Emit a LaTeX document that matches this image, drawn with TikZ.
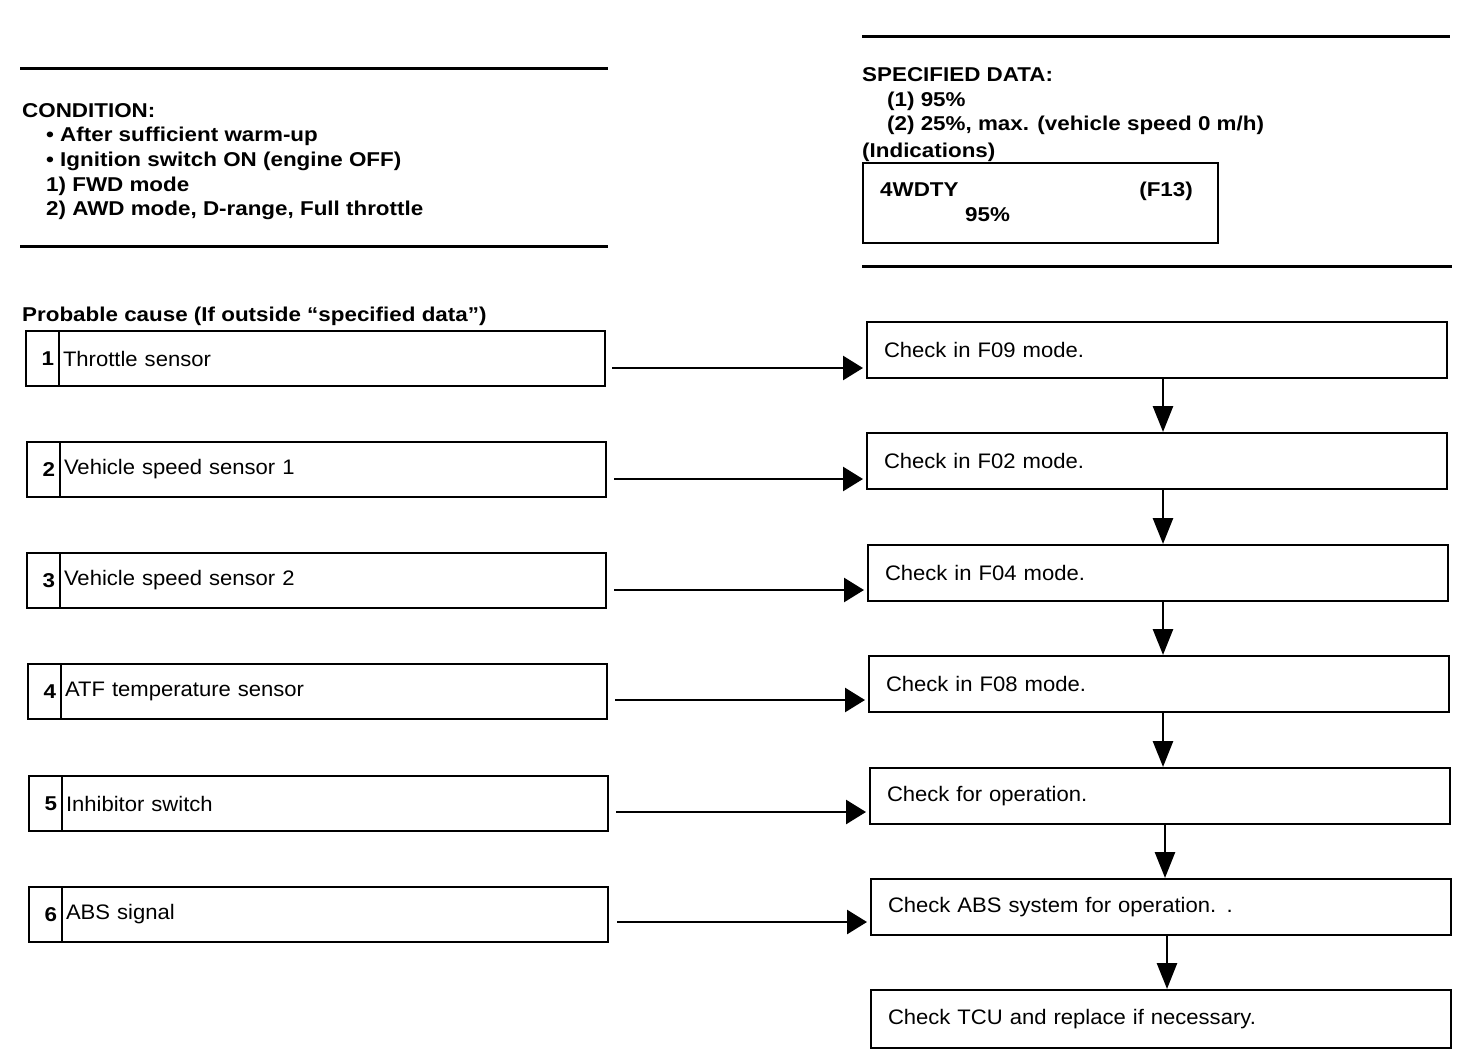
\documentclass[tikz,border=0pt]{standalone}
\usepackage{fontspec}
\setmainfont{Liberation Sans}
\newfontfamily\myreg{Liberation Sans}[FakeStretch=1.05]
\newfontfamily\mybld{Liberation Sans}[FakeStretch=1.12]
\newcommand\myhd{\mybld\bfseries\fontsize{20pt}{24pt}\selectfont}
\newcommand\mybody{\myreg\fontsize{21pt}{25pt}\selectfont}
\usetikzlibrary{arrows.meta}
\tikzset{
  rule/.style={line width=3pt},
  hd/.style={inner sep=0pt, anchor=base west, font=\myhd},
  rbox/.style={draw, line width=2.4pt, outer sep=0pt, anchor=north west, minimum height=56pt,
    text width=546pt, inner xsep=17pt, inner ysep=0pt, align=left, font=\mybody},
  nbox/.style={draw, line width=2.4pt, outer sep=0pt, anchor=north west, minimum height=55pt,
    text width=23pt, inner xsep=5pt, inner ysep=0pt, align=right, font=\myhd},
  lbox/.style={draw, line width=2.4pt, outer sep=0pt, anchor=north west, minimum height=55pt,
    text width=538pt, inner xsep=4pt, inner ysep=0pt, align=left, font=\mybody},
  harr/.style={line width=2.7pt, -{Triangle[length=20pt,width=24pt]}, shorten >=4pt},
  varr/.style={line width=2.7pt, -{Triangle[length=26pt,width=20pt]}, shorten >=1pt}
}
\begin{document}
\begin{tikzpicture}[x=1pt,y=-1pt]
\useasboundingbox (0,0) rectangle (1472,1058);
% rules
\draw[rule] (20,68) -- (608,68);
\draw[rule] (20,246) -- (608,246);
\draw[rule] (862,36) -- (1450,36);
\draw[rule] (862,266) -- (1452,266);
% condition
\node[hd] (cond) at (22,117) {CONDITION:};
\node[hd] (c1) at (46,141) {\textbullet\ After sufficient warm-up};
\node[hd] (c2) at (46,166) {\textbullet\ Ignition switch ON (engine OFF)};
\node[hd] (c3) at (46,191) {1) FWD mode};
\node[hd] (c4) at (46,215) {2) AWD mode, D-range, Full throttle};
% specified data
\node[hd] (spec) at (862,81) {SPECIFIED DATA:};
\node[hd] (s1) at (887,106) {(1) 95\%};
\node[hd] (s2) at (887,130) {(2) 25\%, max. (vehicle speed 0 m/h)};
\node[hd] (ind) at (862,157) {(Indications)};
\node[draw, line width=2.4pt, outer sep=0pt, anchor=north west, minimum width=355pt, minimum height=80pt, inner sep=0pt] (indbox) at (863,163) {};
\node[hd] (i1) at (880,196) {4WDTY};
\node[hd, anchor=base east] (i2) at (1193,196) {(F13)};
\node[hd] (i3) at (965,221) {95\%};
% probable cause
\node[hd] (prob) at (22,321) {Probable cause (If outside “specified data”)};
% left boxes
\node[nbox] (n1) at (26,331) {1};
\node[lbox] (l1) at (n1.north east) {Throttle sensor};
\node[nbox] (n2) at (27,442) {2};
\node[lbox] (l2) at (n2.north east) {Vehicle speed sensor 1};
\node[nbox] (n3) at (27,553) {3};
\node[lbox] (l3) at (n3.north east) {Vehicle speed sensor 2};
\node[nbox] (n4) at (28,664) {4};
\node[lbox] (l4) at (n4.north east) {ATF temperature sensor};
\node[nbox] (n5) at (29,776) {5};
\node[lbox] (l5) at (n5.north east) {Inhibitor switch};
\node[nbox] (n6) at (29,887) {6};
\node[lbox] (l6) at (n6.north east) {ABS signal};
% right boxes
\node[rbox] (r1) at (867,322) {Check in F09 mode.};
\node[rbox] (r2) at (867,433) {Check in F02 mode.};
\node[rbox] (r3) at (868,545) {Check in F04 mode.};
\node[rbox] (r4) at (869,656) {Check in F08 mode.};
\node[rbox] (r5) at (870,768) {Check for operation.};
\node[rbox] (r6) at (871,879) {Check ABS system for operation. .};
\node[rbox, minimum height=58pt] (r7) at (871,990) {Check TCU and replace if necessary.};
% horizontal arrows
\coordinate (a1) at ([xshift=7pt]l1.east |- 0,368);
\coordinate (a2) at ([xshift=8pt]l2.east |- 0,479);
\coordinate (a3) at ([xshift=8pt]l3.east |- 0,590);
\coordinate (a4) at ([xshift=8pt]l4.east |- 0,700);
\coordinate (a5) at ([xshift=8pt]l5.east |- 0,812);
\coordinate (a6) at ([xshift=9pt]l6.east |- 0,922);
\draw[harr] (a1) -- (r1.west |- a1);
\draw[harr] (a2) -- (r2.west |- a2);
\draw[harr] (a3) -- (r3.west |- a3);
\draw[harr] (a4) -- (r4.west |- a4);
\draw[harr] (a5) -- (r5.west |- a5);
\draw[harr] (a6) -- (r6.west |- a6);
% vertical arrows
\draw[varr] ([xshift=6pt]r1.south) -- ([xshift=6pt]r1.south |- r2.north);
\draw[varr] ([xshift=6pt]r2.south) -- ([xshift=6pt]r2.south |- r3.north);
\draw[varr] ([xshift=5pt]r3.south) -- ([xshift=5pt]r3.south |- r4.north);
\draw[varr] ([xshift=4pt]r4.south) -- ([xshift=4pt]r4.south |- r5.north);
\draw[varr] ([xshift=5pt]r5.south) -- ([xshift=5pt]r5.south |- r6.north);
\draw[varr] ([xshift=6pt]r6.south) -- ([xshift=6pt]r6.south |- r7.north);
\end{tikzpicture}
\end{document}
